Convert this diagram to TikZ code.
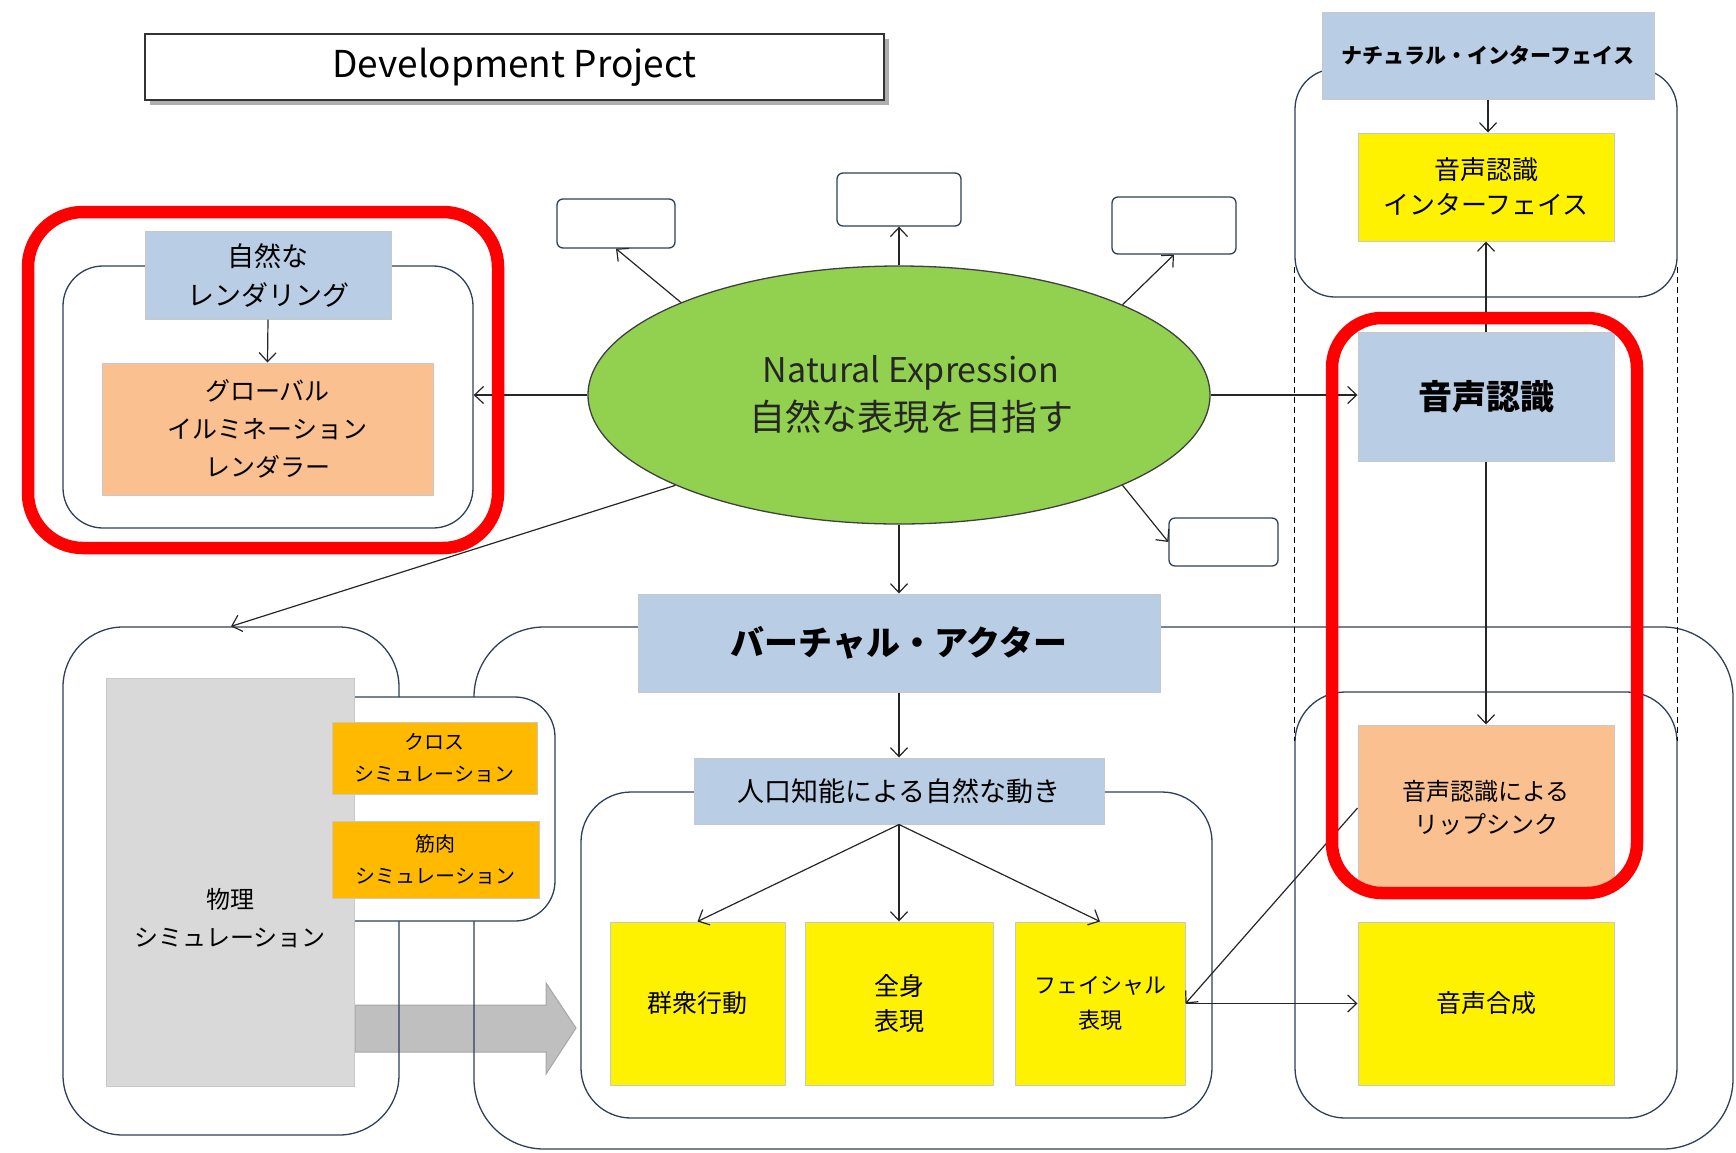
\documentclass[tikz,border=0pt]{standalone}
\usepackage{fontspec}
\setmainfont{Noto Sans CJK JP}
\usetikzlibrary{arrows.meta,shadows,shapes.geometric}

\definecolor{paleblue}{HTML}{B9CDE5}
\definecolor{peach}{HTML}{FAC090}
\definecolor{amber}{HTML}{FFBA00}
\definecolor{lightgray}{HTML}{D9D9D9}
\definecolor{leaf}{HTML}{92D050}
\definecolor{navy}{HTML}{2E3F5C}
\definecolor{boxedge}{HTML}{C8C8C8}

\begin{document}
\begin{tikzpicture}[x=1pt,y=-1pt,
  sz/.style 2 args={minimum width=#1pt,minimum height=#2pt},
  fs/.style 2 args={font=\fontsize{#1pt}{#2pt}\selectfont},
  tile/.style={draw=boxedge,line width=1pt,inner sep=0pt,align=center,text=black},
  panel/.style={draw=navy,line width=1.3pt,rounded corners=#1,inner sep=0pt},
  blank/.style={draw=navy,line width=1.3pt,rounded corners=6pt,fill=white,inner sep=0pt},
  redframe/.style={draw=red,line width=12.5pt,rounded corners=#1,inner sep=0pt},
  conn/.style={draw=black!85,line width=1.2pt,-{Straight Barb[length=9pt,width=17pt,line width=1.2pt]}},
  dashline/.style={draw=black,line width=1pt,dash pattern=on 6pt off 4pt}
]
\useasboundingbox (0,0) rectangle (1736,1152);

% broad arrow from the physics block into the motion block
\draw[fill=black!25,draw=black!35,line width=1pt]
  (355,1005) -- (546,1005) -- (546,983) -- (576,1028) -- (546,1074)
  -- (546,1052) -- (355,1052) -- cycle;

% group outlines
\node[panel=40pt,sz={410}{262}] (renderframe) at (268,397) {};
\node[panel=40pt,sz={382}{228}] (ifframe) at (1486,183) {};
\node[panel=50pt,sz={382}{426}] (voiceframe) at (1486,905) {};
\node[panel=70pt,sz={1259}{522}] (actorframe) at (1103.5,888) {};
\node[panel=50pt,sz={631}{326}] (aiframe) at (896.5,955) {};
\node[panel=60pt,sz={336}{508}] (physframe) at (231,881) {};

\draw[dashline] ([yshift=31pt]ifframe.south west) -- ([yshift=-50pt]voiceframe.north west);
\draw[dashline] ([yshift=31pt]ifframe.south east) -- ([yshift=-50pt]voiceframe.north east);

\node[panel=40pt,fill=white,sz={245}{224}] (clothframe) at (432.5,809) {};

% title
\node[draw=black!80,line width=1.5pt,fill=white,sz={739}{66},
  drop shadow={shadow xshift=5pt,shadow yshift=-5pt,fill=black!45,opacity=.7},
  fs={37}{40}] (title) at (514.5,67) {Development Project};

% rendering
\node[tile,fill=paleblue,sz={246}{88},fs={27}{39}] (render) at (268,275) {自然な\\レンダリング};
\node[tile,fill=peach,sz={331}{132},fs={25}{38}] (gi) at (267.5,429) {グローバル\\イルミネーション\\レンダラー};

% central goal
\node[draw=black!75,line width=1.3pt,fill=leaf,ellipse,sz={622}{258},inner sep=0pt,
  align=center,fs={34}{48},text=black!85] (goal) at (899,395)
  {\hspace*{24pt}Natural Expression\\\hspace*{24pt}{\fontsize{36pt}{48pt}\selectfont 自然な表現を目指す}};

\node[blank,sz={118}{49}] (b1) at (616,223.5) {};
\node[blank,sz={124}{53}] (b2) at (899,199.5) {};
\node[blank,sz={124}{57}] (b3) at (1174,225.5) {};
\node[blank,sz={109}{48}] (b4) at (1223.5,542) {};

% natural interface column
\node[tile,fill=paleblue,sz={332}{87},fs={21}{30}] (natif) at (1488,55.5) {\bfseries ナチュラル・インターフェイス};
\node[tile,fill=yellow,sz={256}{108},fs={26}{35}] (srif) at (1486,187) {音声認識\\インターフェイス};
\node[tile,fill=paleblue,sz={256}{129},fs={34}{40}] (sr) at (1486,396.5) {\bfseries 音声認識};
\node[tile,fill=peach,sz={256}{166},fs={24}{33}] (lip) at (1486,808) {音声認識による\\リップシンク};
\node[tile,fill=yellow,sz={256}{163},fs={25}{32}] (tts) at (1486,1003.5) {音声合成};

% virtual actor
\node[tile,fill=paleblue,sz={522}{98},fs={34}{40}] (actor) at (899,643) {\bfseries バーチャル・アクター};
\node[tile,fill=paleblue,sz={410}{66},fs={27}{34}] (ai) at (899,791) {人口知能による自然な動き};
\node[tile,fill=yellow,sz={175}{163},fs={25}{35}] (crowd) at (697.5,1003.5) {群衆行動};
\node[tile,fill=yellow,sz={188}{163},fs={25}{35}] (body) at (899,1003.5) {全身\\表現};
\node[tile,fill=yellow,sz={170}{163},fs={22}{35}] (face) at (1100,1003.5) {フェイシャル\\表現};

% physics
\node[tile,fill=lightgray,sz={248}{408},
  label={[yshift=-36pt,align=center,fs={24}{38}]center:{物理\\シミュレーション}}] (phys) at (230,882) {};
\node[tile,fill=amber,sz={205}{72},fs={20}{32}] (cloth) at (434.5,758) {クロス\\シミュレーション};
\node[tile,fill=amber,sz={207}{77},fs={20}{32}] (muscle) at (435.5,859.5) {筋肉\\シミュレーション};

% connectors
\draw[conn] (goal.west) -- (goal.west -| renderframe.east);
\draw[conn] (goal.157) -- (b1.south);
\draw[conn] (goal.north) -- (b2.south);
\draw[conn] (goal.22.6) -- (b3.south);
\draw[conn] (goal.-22.6) -- (b4.west);
\draw[conn] (goal.east) -- (goal.east -| sr.west);
\draw[conn] (goal.202.8) -- (physframe.north);
\draw[conn] (goal.south) -- (actor.north);
\draw[conn] (render.south) -- (gi.north);
\draw[conn] (natif.south) -- (natif.south |- srif.north);
\draw[conn] (sr.north) -- (srif.south);
\draw[conn] (sr.south) -- (lip.north);
\draw[conn] (actor.south) -- (ai.north);
\draw[conn] (ai.south) -- (crowd.north);
\draw[conn] (ai.south) -- (body.north);
\draw[conn] (ai.south) -- (face.north);
\draw[conn] (lip.west) -- (face.east);
\draw[conn] (face.east) -- (tts.west);

% highlight rings
\node[redframe=55pt,sz={470}{336}] (focus1) at (263,380) {};
\node[redframe=50pt,sz={305}{575}] (focus2) at (1484.5,605.5) {};
\end{tikzpicture}
\end{document}
